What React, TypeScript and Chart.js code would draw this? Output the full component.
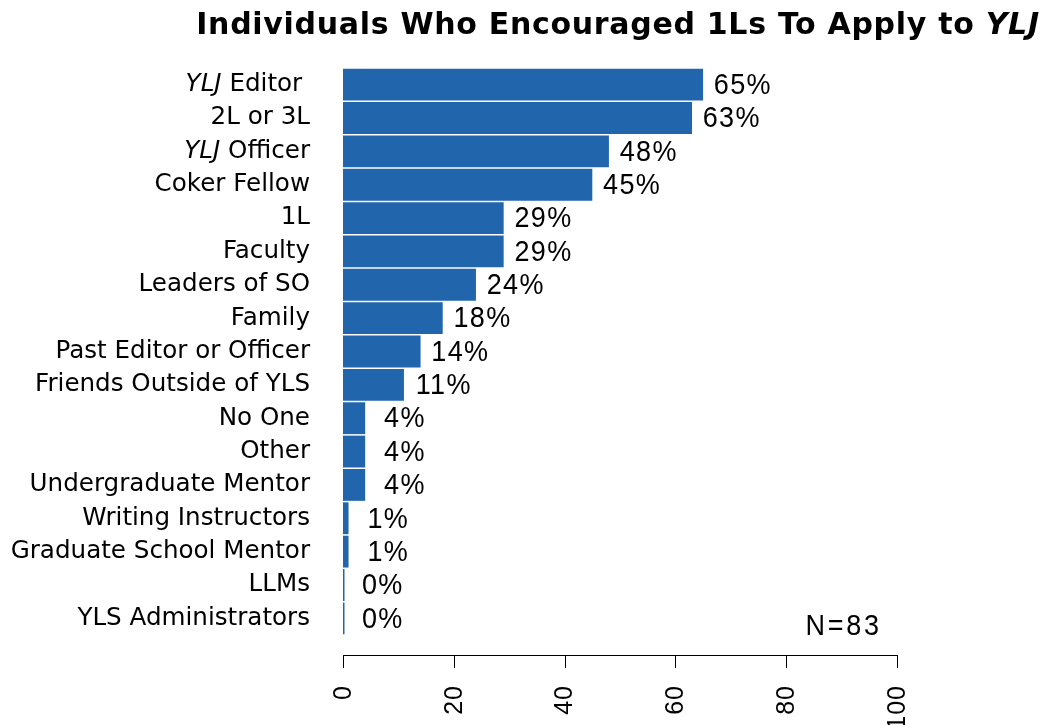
import { useEffect, useRef } from "react";
import { Chart, registerables } from "chart.js";

Chart.register(...registerables);

const categories = [
  "YLJ Editor ",
  "2L or 3L",
  "YLJ Officer",
  "Coker Fellow",
  "1L",
  "Faculty",
  "Leaders of SO",
  "Family",
  "Past Editor or Officer",
  "Friends Outside of YLS",
  "No One",
  "Other",
  "Undergraduate Mentor",
  "Writing Instructors",
  "Graduate School Mentor",
  "LLMs",
  "YLS Administrators",
];
const values = [65, 63, 48, 45, 29, 29, 24, 18, 14, 11, 4, 4, 4, 1, 1, 0, 0];
const xTicks = [0, 20, 40, 60, 80, 100];
const italicPrefix = "YLJ";
const titleMain = "Individuals Who Encouraged 1Ls To Apply to ";
const titleItalic = "YLJ";
const noteText = "N=83";
const noteX = 90;
const noteRow = 16.25;
const labelOffset = 7;

const BAR_COLOR = "#2166AC";
const LABEL_FONT = "24.6px 'DejaVu Sans', Verdana, sans-serif";
const LABEL_FONT_IT = "italic 24.6px 'DejaVu Sans', Verdana, sans-serif";
const VALUE_FONT = "30px 'Liberation Sans', Arial, sans-serif";
const TICK_FONT = "25px 'Liberation Sans', Arial, sans-serif";
const TITLE_FONT = "bold 30px 'DejaVu Sans', Verdana, sans-serif";
const TITLE_FONT_IT = "italic bold 30px 'DejaVu Sans', Verdana, sans-serif";

function drawSqueezed(ctx: CanvasRenderingContext2D, text: string, x: number, y: number, k: number) {
  ctx.save();
  ctx.translate(x, y);
  ctx.scale(k, 1);
  ctx.fillText(text, 0, 0);
  ctx.restore();
}

const drawPlugin = {
  id: "customDraw",
  afterDatasetsDraw(chart: any) {
    const ctx = chart.ctx as CanvasRenderingContext2D;
    const xs = chart.scales.x;
    const ys = chart.scales.y;
    const area = chart.chartArea;
    ctx.save();
    ctx.fillStyle = "#000";

    // Title
    (ctx as any).letterSpacing = "0.7px";
    ctx.font = TITLE_FONT;
    const wMain = ctx.measureText(titleMain).width;
    ctx.font = TITLE_FONT_IT;
    const wIt = ctx.measureText(titleItalic).width;
    const cx = (area.left + area.right) / 2 - 2;
    const tx = cx - (wMain + wIt) / 2;
    ctx.textAlign = "left";
    ctx.textBaseline = "alphabetic";
    ctx.font = TITLE_FONT;
    ctx.fillText(titleMain, tx, 34);
    ctx.font = TITLE_FONT_IT;
    ctx.fillText(titleItalic, tx + wMain, 34);
    (ctx as any).letterSpacing = "0px";

    // Category labels
    ctx.textBaseline = "middle";
    const rightX = area.left - 33;
    categories.forEach((cat, i) => {
      const y = ys.getPixelForValue(i);
      if (cat.startsWith(italicPrefix + " ")) {
        const rest = cat.slice(italicPrefix.length);
        ctx.font = LABEL_FONT;
        const wr = ctx.measureText(rest).width;
        ctx.font = LABEL_FONT_IT;
        const wi = ctx.measureText(italicPrefix).width;
        ctx.textAlign = "left";
        ctx.fillText(italicPrefix, rightX - wr - wi, y);
        ctx.font = LABEL_FONT;
        ctx.fillText(rest, rightX - wr, y);
      } else {
        ctx.font = LABEL_FONT;
        ctx.textAlign = "right";
        ctx.fillText(cat, rightX, y);
      }
    });

    // Value labels
    ctx.font = VALUE_FONT;
    (ctx as any).letterSpacing = "1.5px";
    ctx.textAlign = "center";
    values.forEach((v, i) => {
      const y = ys.getPixelForValue(i);
      const x = xs.getPixelForValue(v + labelOffset);
      drawSqueezed(ctx, v + "%", x + 1, y + 1, 0.9);
    });
    (ctx as any).letterSpacing = "3px";
    drawSqueezed(ctx, noteText, xs.getPixelForValue(noteX) + 2, ys.getPixelForValue(noteRow), 0.9);
    (ctx as any).letterSpacing = "0px";

    // X axis
    const axisY = area.bottom + 20;
    ctx.strokeStyle = "#000";
    ctx.lineWidth = 1;
    ctx.beginPath();
    ctx.moveTo(xs.getPixelForValue(xTicks[0]), axisY + 0.5);
    ctx.lineTo(xs.getPixelForValue(xTicks[xTicks.length - 1]), axisY + 0.5);
    xTicks.forEach((t) => {
      const x = Math.round(xs.getPixelForValue(t)) + 0.5;
      ctx.moveTo(x, axisY);
      ctx.lineTo(x, axisY + 13);
    });
    ctx.stroke();

    ctx.font = TICK_FONT;
    (ctx as any).letterSpacing = "1px";
    xTicks.forEach((t) => {
      const x = xs.getPixelForValue(t);
      ctx.save();
      ctx.translate(x, axisY + 30);
      ctx.rotate(-Math.PI / 2);
      ctx.textAlign = "right";
      ctx.textBaseline = "middle";
      ctx.fillText(String(t), 0, 1);
      ctx.restore();
    });
    ctx.restore();
  },
};

export default function App() {
  const ref = useRef<HTMLCanvasElement>(null);
  useEffect(() => {
    document.body.style.margin = "0";
    const chart = new Chart(ref.current!, {
      type: "bar",
      data: {
        labels: categories,
        datasets: [
          {
            data: values,
            backgroundColor: BAR_COLOR,
            borderWidth: 0,
            barPercentage: 0.955,
            categoryPercentage: 1,
            minBarLength: 1.5,
          },
        ],
      },
      options: {
        indexAxis: "y",
        animation: false,
        responsive: false,
        maintainAspectRatio: false,
        layout: { padding: { left: 343, right: 150, top: 68, bottom: 90 } },
        plugins: { legend: { display: false }, tooltip: { enabled: false }, title: { display: false } },
        scales: {
          x: { display: false, min: 0, max: 100 },
          y: { display: false },
        },
      },
      plugins: [drawPlugin],
    });
    return () => chart.destroy();
  }, []);
  return (
    <div style={{ width: 1047, height: 725, background: "#fff" }}>
      <canvas ref={ref} width={1047} height={725} style={{ display: "block", width: 1047, height: 725 }} />
    </div>
  );
}
